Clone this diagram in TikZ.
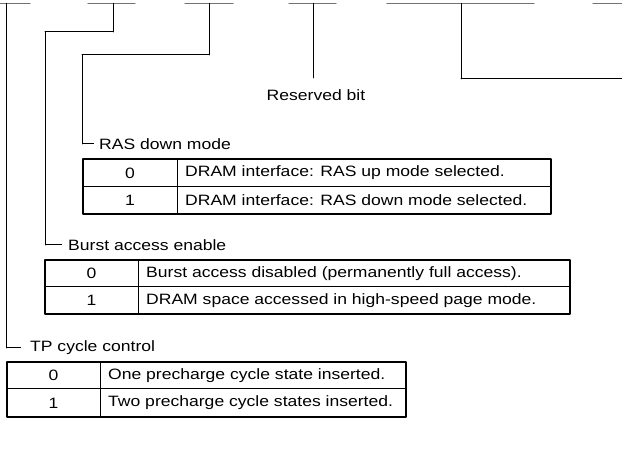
\documentclass[tikz,border=0pt]{standalone}
\usepackage{fontspec}
\setmainfont{Liberation Sans}[FakeStretch=1.17]
\usepackage{tkz-euclide}

\begin{document}
\begin{tikzpicture}[x=1pt, y=1pt, font=\fontsize{15}{18}\selectfont,
    bitlabel/.style={anchor=west, inner sep=0pt},
    celltext/.style={anchor=west, inner sep=0pt}]
                \useasboundingbox (0,0) rectangle (622,463);
                % bit fields along the top edge
                \tkzDefPoints{0/459.5/a1, 30/459.5/a2, 88/459.5/b1, 135/459.5/b2, 185/459.5/c1, 233/459.5/c2, 289/459.5/d1, 336/459.5/d2, 387/459.5/e1, 534/459.5/e2, 593/459.5/f1, 622/459.5/f2}
                \tkzDrawSegments[black!55, line width=1.2pt](a1,a2 b1,b2 c1,c2 d1,d2 e1,e2 f1,f2)
                % leader lines
                \tkzDefPoints{6.5/459.5/A0, 6.5/115/A1, 113/459.5/B0, 113/431/B1, 45/431/B2, 45/218/B3, 209/459.5/C0, 209/408/C1, 82/408/C2, 82/319/C3, 313/459.5/D0, 313/385/D1, 461/459.5/E0, 461/384/E1, 622/384/E2}
                \tkzDrawSegments[black, line width=1pt](A0,A1 B0,B1 B1,B2 B2,B3 C0,C1 C1,C2 C2,C3 D0,D1 E0,E1 E1,E2)
                \node[bitlabel] (ras) at ([xshift=17pt]C3) {RAS down mode};
                \node[bitlabel] (burst) at ([xshift=23pt]B3) {Burst access enable};
                \node[bitlabel] (tp) at ([xshift=23.5pt]A1) {TP cycle control};
                \node (rsv) at (316,368) {Reserved bit};
                \draw[line width=1pt] (C3) -- ([xshift=-5pt]ras.west);
                \draw[line width=1pt] (B3) -- ([xshift=-6pt]burst.west);
                \draw[line width=1pt] (A1) -- ([xshift=-9pt]tp.west);
                % RAS down mode table
                \tkzDefPoints{83/304/R1, 551/304/R2, 551/249/R3, 83/249/R4, 83/276/R5, 551/276/R6, 177/304/R7, 177/249/R8}
                \tkzDrawPolygon[line width=1.3pt](R1,R2,R3,R4)
                \tkzDrawSegments[line width=1pt](R5,R6 R7,R8)
                \node (ras0) at (130,290) {0};
                \node (ras1) at (130,262.5) {1};
                \node[celltext] (rast0) at (185,290) {DRAM interface: RAS up mode selected.};
                \node[celltext] (rast1) at (185,262.5) {DRAM interface: RAS down mode selected.};
                % burst access table
                \tkzDefPoints{45/203/S1, 570/203/S2, 570/149/S3, 45/149/S4, 45/176/S5, 570/176/S6, 138/203/S7, 138/149/S8}
                \tkzDrawPolygon[line width=1.3pt](S1,S2,S3,S4)
                \tkzDrawSegments[line width=1pt](S5,S6 S7,S8)
                \node (bst0) at (91.5,189.5) {0};
                \node (bst1) at (91.5,162.5) {1};
                \node[celltext] (bstt0) at (146,189.5) {Burst access disabled (permanently full access).};
                \node[celltext] (bstt1) at (146,162.5) {DRAM space accessed in high-speed page mode.};
                % TP cycle table
                \tkzDefPoints{7/101/T1, 406/101/T2, 406/46/T3, 7/46/T4, 7/74/T5, 406/74/T6, 100/101/T7, 100/46/T8}
                \tkzDrawPolygon[line width=1.3pt](T1,T2,T3,T4)
                \tkzDrawSegments[line width=1pt](T5,T6 T7,T8)
                \node (tp0) at (53.5,87.5) {0};
                \node (tp1) at (53.5,60) {1};
                \node[celltext] (tpt0) at (108,87.5) {One precharge cycle state inserted.};
                \node[celltext] (tpt1) at (108,60) {Two precharge cycle states inserted.};
            \end{tikzpicture}
\end{document}
